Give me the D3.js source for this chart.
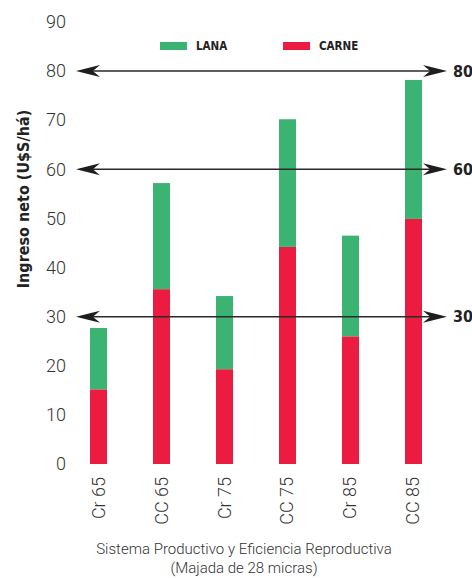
<!DOCTYPE html>
<html><head><meta charset="utf-8">
<script src="https://cdn.jsdelivr.net/npm/d3@7"></script>
<style>
body{margin:0;background:#fff;}
text{font-family:Roboto,"DejaVu Sans Condensed",sans-serif;}
.lt{font-family:Roboto,sans-serif;font-weight:300;}
.bd{font-family:"DejaVu Sans Condensed",sans-serif;font-weight:bold;}
</style></head>
<body>
<svg id="c" width="472" height="578"></svg>
<script>
const categories = ["Cr 65","CC 65","Cr 75","CC 75","Cr 85","CC 85"];
const carne = [15.2, 35.6, 19.3, 44.2, 26.0, 49.9];
const lana  = [12.5, 21.6, 14.9, 26.0, 20.5, 28.3];
const yTicks = [0,10,20,30,40,50,60,70,80,90];
const refLines = [80, 60, 30];
const seriesNames = ["LANA","CARNE"];
const colors = {LANA:"#3ab373", CARNE:"#ec1b40"};

const svg = d3.select("#c");
const y = d3.scaleLinear().domain([0,90]).range([464,22]);
const x = d3.scaleBand().domain(categories).range([58.5,453.5]).paddingInner(0.73).paddingOuter(0.5);

const rows = categories.map((c,i)=>({cat:c, CARNE:carne[i], LANA:lana[i]}));
const stack = d3.stack().keys(["CARNE","LANA"])(rows);

// y axis tick labels
const yAxis = d3.axisLeft(y).tickValues(yTicks).tickSize(0).tickPadding(0);
const ga = svg.append("g").attr("transform","translate(66,0)").call(yAxis);
ga.select(".domain").remove();
ga.selectAll("text").attr("class","lt").attr("font-size",18).attr("fill","#333")
  .attr("font-family",null);

// bars
svg.append("g").selectAll("g").data(stack).join("g")
  .attr("fill",d=>colors[d.key])
  .selectAll("rect").data(d=>d).join("rect")
  .attr("x",d=>x(d.data.cat)).attr("width",x.bandwidth())
  .attr("y",d=>y(d[1])).attr("height",d=>y(d[0])-y(d[1]));

// reference arrows
const ah = (tipX, dir, yy) => {
  const L = 24*dir, h = 6;
  return `M${tipX},${yy} L${tipX+L},${yy-h} L${tipX+L*0.7},${yy} L${tipX+L},${yy+h} Z`;
};
const rg = svg.append("g");
refLines.forEach(v=>{
  const yy = y(v);
  rg.append("line").attr("x1",80).attr("x2",440).attr("y1",yy).attr("y2",yy)
    .attr("stroke","#2a2a2a").attr("stroke-width",1.5);
  rg.append("path").attr("d",ah(76,1,yy)).attr("fill","#1e1e1e");
  rg.append("path").attr("d",ah(447,-1,yy)).attr("fill","#1e1e1e");
  rg.append("text").attr("class","bd").attr("x",453).attr("y",yy).attr("dy","0.35em")
    .attr("font-size",16).attr("fill","#222").text(v);
});

// x labels
categories.forEach(c=>{
  svg.append("text").attr("class","lt")
    .attr("transform",`translate(${x(c)+x.bandwidth()/2+6},477) rotate(-90)`)
    .attr("text-anchor","end").attr("font-size",18).attr("fill","#333").text(c);
});

// legend
const lg = [{k:"LANA",x:160},{k:"CARNE",x:283}];
lg.forEach(l=>{
  svg.append("rect").attr("x",l.x).attr("y",42).attr("width",27).attr("height",8).attr("fill",colors[l.k]);
  svg.append("text").attr("class","bd").attr("x",l.x+36).attr("y",50).attr("font-size",11.5)
    .attr("fill","#222").text(l.k);
});

// y title
svg.append("text").attr("class","bd").attr("transform","translate(29,199) rotate(-90)")
  .attr("text-anchor","middle").attr("font-size",16).attr("fill","#222")
  .text("Ingreso neto (U$S/há)");

// x title
svg.append("text").attr("class","lt").attr("x",244).attr("y",554).attr("text-anchor","middle")
  .attr("font-size",15).attr("fill","#333").text("Sistema Productivo y Eficiencia Reproductiva");
svg.append("text").attr("class","lt").attr("x",244).attr("y",573).attr("text-anchor","middle")
  .attr("font-size",15).attr("fill","#333").text("(Majada de 28 micras)");
</script>
</body></html>
